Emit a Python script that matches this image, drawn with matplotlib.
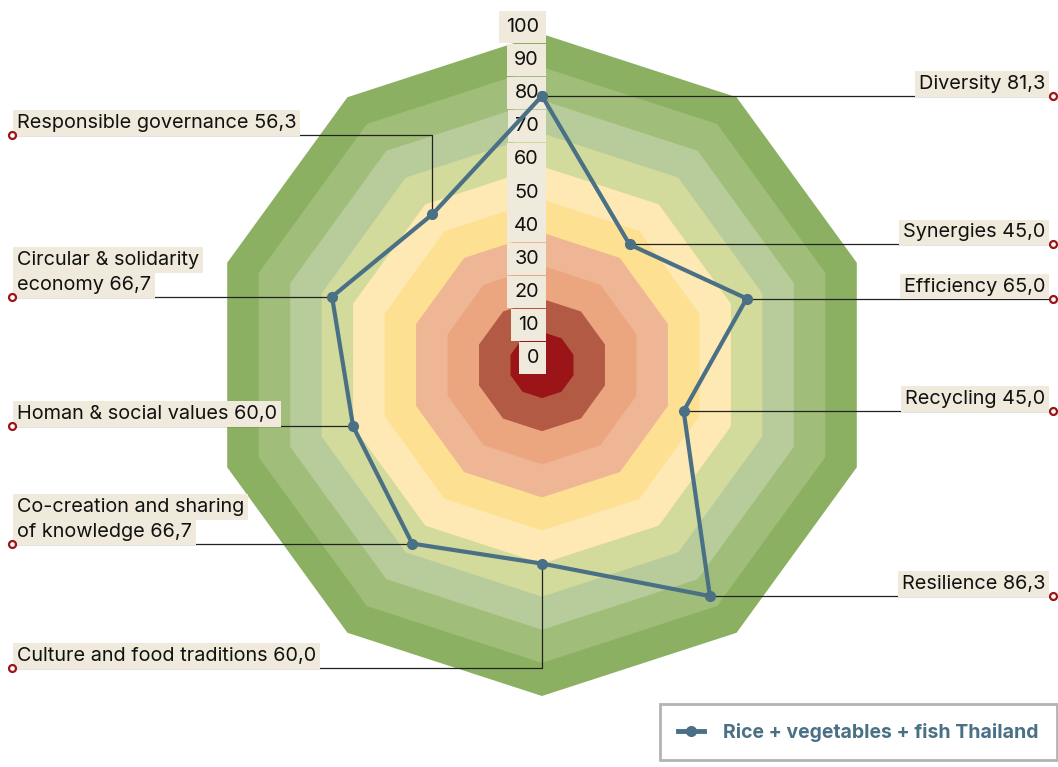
import numpy as np
import matplotlib.pyplot as plt

plt.rcParams["font.family"] = ["Inter", "DejaVu Sans"]

# data
CATEGORIES = [
    "Diversity", "Synergies", "Efficiency", "Recycling", "Resilience",
    "Culture and food traditions", "Co-creation and sharing\nof knowledge",
    "Homan & social values", "Circular & solidarity\neconomy", "Responsible governance",
]
VALUES = [81.3, 45.0, 65.0, 45.0, 86.3, 60.0, 66.7, 60.0, 66.7, 56.3]
SERIES_NAME = "Rice + vegetables + fish Thailand"
BAND_LEVELS = [100, 90, 80, 70, 60, 50, 40, 30, 20, 10]
BAND_COLORS = ["#8cb062", "#a0be79", "#b7cc9a", "#d2da9c", "#fee9b4",
               "#fde092", "#efb696", "#eba680", "#b35a44", "#9b1518"]
TICKS = list(range(0, 101, 10))

LINE_COLOR = "#4a7085"
BOX_COLOR = "#efeadb"
DOT_RED = "#9b1518"
FS = 14.3

# geometry (pixels)
W, H = 1058, 767
CX, CY = 542, 365
S = 3.31  # px per unit


def px_x(p):
    return (p - CX) / S


def px_y(p):
    return (CY - p) / S


n = len(CATEGORIES)
angles = np.deg2rad(90 - 36 * np.arange(n))

fig = plt.figure(figsize=(W / 100, H / 100), dpi=100)
ax = fig.add_axes([0, 0, 1, 1])
ax.set_xlim(px_x(0), px_x(W))
ax.set_ylim(px_y(H), px_y(0))
ax.axis("off")

# background bands
for lev, col in zip(BAND_LEVELS, BAND_COLORS):
    ax.fill(lev * np.cos(angles), lev * np.sin(angles), color=col, lw=0, zorder=1)

# radial tick labels
for t in TICKS:
    ax.text(px_x(539), t + 7 / S, str(t), ha="right", va="center", fontsize=FS,
            color="#111111", zorder=3,
            bbox=dict(boxstyle="square,pad=0.36", fc=BOX_COLOR, ec="none"))

# series
vals = np.array(VALUES)
xs = vals * np.cos(angles)
ys = vals * np.sin(angles)
ax.plot(np.append(xs, xs[0]), np.append(ys, ys[0]), color=LINE_COLOR, lw=3,
        marker="o", markersize=7, zorder=4, solid_joinstyle="round")

# leader lines and labels
LEFT_END, RIGHT_END = px_x(12), px_x(1053)
ELBOW_Y = {9: px_y(135), 5: px_y(668)}
LINE_STEP = 25 / S

for i, (name, v) in enumerate(zip(CATEGORIES, VALUES)):
    right = i < 5
    x0, y0 = xs[i], ys[i]
    ly = ELBOW_Y.get(i, y0)
    end = RIGHT_END if right else LEFT_END
    if i in ELBOW_Y:
        ax.plot([x0, x0, end], [y0, ly, ly], color="#222222", lw=0.9, zorder=2)
    else:
        ax.plot([x0, end], [y0, ly], color="#222222", lw=0.9, zorder=2)
    ax.plot(end, ly, "o", ms=5, mfc="white", mec=DOT_RED, mew=1.6, zorder=6)

    text = f"{name} {v:.1f}".replace(".", ",")
    lines = text.split("\n")
    for k, line in enumerate(reversed(lines)):
        ty = ly + 3 / S + k * LINE_STEP
        if right:
            ax.text(px_x(1045), ty, line, ha="right", va="bottom", fontsize=FS,
                    color="#111111", zorder=5,
                    bbox=dict(boxstyle="square,pad=0.2", fc=BOX_COLOR, ec="none"))
        else:
            ax.text(px_x(17), ty, line, ha="left", va="bottom", fontsize=FS,
                    color="#111111", zorder=5,
                    bbox=dict(boxstyle="square,pad=0.2", fc=BOX_COLOR, ec="none"))

# legend
leg_handle = plt.Line2D([], [], color=LINE_COLOR, lw=3.5, marker="o", markersize=7)
leg = fig.legend([leg_handle], [SERIES_NAME], loc="lower right",
                 bbox_to_anchor=(1057 / W, 1 - 760 / H), frameon=True,
                 fancybox=False, handlelength=1.3, handletextpad=1.0,
                 borderpad=0.95, borderaxespad=0,
                 prop=dict(size=14, weight="bold"), labelcolor=LINE_COLOR)
leg.get_frame().set_edgecolor("#a0a0a0")
leg.get_frame().set_linewidth(2)

fig.savefig("out.png", dpi=100)
